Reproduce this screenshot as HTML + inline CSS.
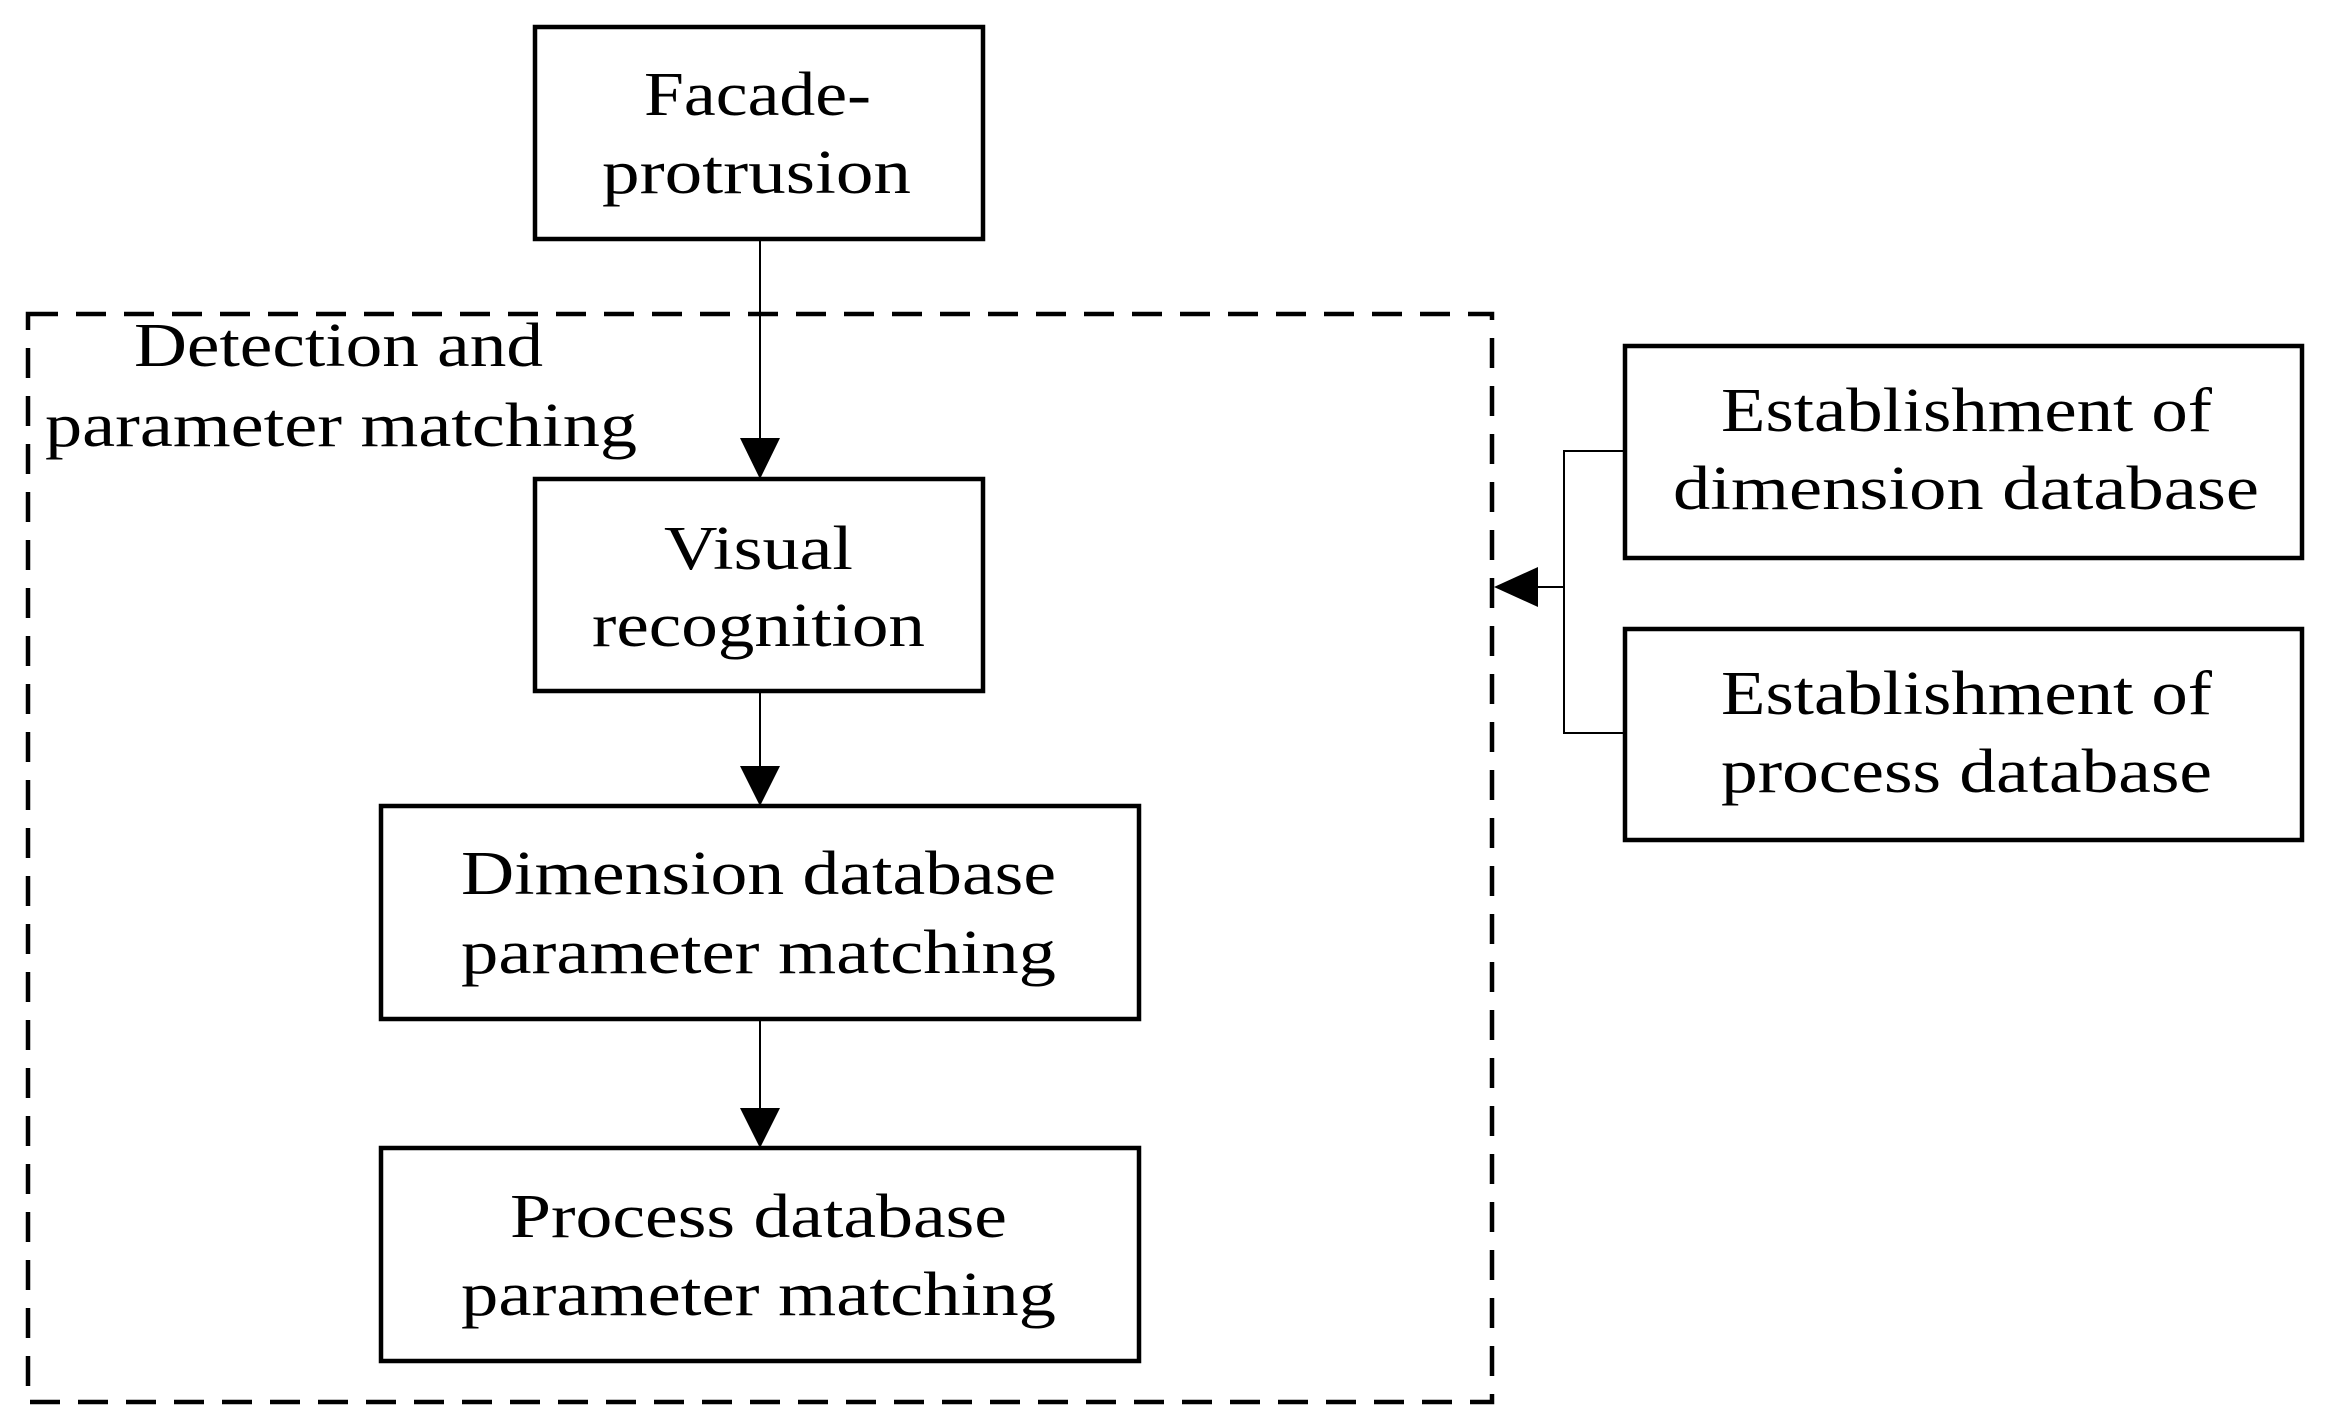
<!DOCTYPE html>
<html><head><meta charset="utf-8"><style>html,body{margin:0;padding:0;background:#fff}svg{display:block}</style></head>
<body>
<svg width="2332" height="1426" viewBox="0 0 2332 1426" xmlns="http://www.w3.org/2000/svg" font-family="'Liberation Serif', serif" font-size="62" fill="#000">
<rect x="28" y="314" width="1464" height="1088" fill="none" stroke="#000" stroke-width="4.5" stroke-dasharray="30 18"/>
<g fill="none" stroke="#000" stroke-width="4.5">
<rect x="535" y="27" width="448" height="212"/>
<rect x="535" y="479" width="448" height="212"/>
<rect x="381" y="806" width="758" height="213"/>
<rect x="381" y="1148" width="758" height="213"/>
<rect x="1625" y="346" width="677" height="212"/>
<rect x="1625" y="629" width="677" height="211"/>
</g>
<g stroke="#000" stroke-width="2" fill="none">
<line x1="760" y1="239" x2="760" y2="440"/>
<line x1="760" y1="691" x2="760" y2="768"/>
<line x1="760" y1="1019" x2="760" y2="1110"/>
<polyline points="1625,451 1564,451 1564,733 1625,733"/>
<line x1="1564" y1="587" x2="1535" y2="587"/>
</g>
<g fill="#000">
<path d="M740,438 L780,438 L760,479 z"/>
<path d="M740,766 L780,766 L760,806 z"/>
<path d="M740,1108 L780,1108 L760,1148 z"/>
<path d="M1538,567 L1538,607 L1494,587 z"/>
</g>
<g transform="translate(0,4)">
<text x="644" y="111" textLength="227" lengthAdjust="spacingAndGlyphs">Facade-</text>
<text x="602" y="189" textLength="309" lengthAdjust="spacingAndGlyphs">protrusion</text>
<text x="664" y="565" textLength="189" lengthAdjust="spacingAndGlyphs">Visual</text>
<text x="592" y="642" textLength="333" lengthAdjust="spacingAndGlyphs">recognition</text>
<text x="461" y="890" textLength="595" lengthAdjust="spacingAndGlyphs">Dimension database</text>
<text x="461" y="969" textLength="595" lengthAdjust="spacingAndGlyphs">parameter matching</text>
<text x="510" y="1233" textLength="497" lengthAdjust="spacingAndGlyphs">Process database</text>
<text x="461" y="1311" textLength="595" lengthAdjust="spacingAndGlyphs">parameter matching</text>
<text x="1721" y="427" textLength="491" lengthAdjust="spacingAndGlyphs">Establishment of</text>
<text x="1673" y="505" textLength="586" lengthAdjust="spacingAndGlyphs">dimension database</text>
<text x="1721" y="710" textLength="491" lengthAdjust="spacingAndGlyphs">Establishment of</text>
<text x="1721" y="788" textLength="491" lengthAdjust="spacingAndGlyphs">process database</text>
<text x="134" y="362" textLength="409" lengthAdjust="spacingAndGlyphs">Detection and</text>
<text x="45" y="442" textLength="592" lengthAdjust="spacingAndGlyphs">parameter matching</text>
</g>
</svg>
</body></html>
